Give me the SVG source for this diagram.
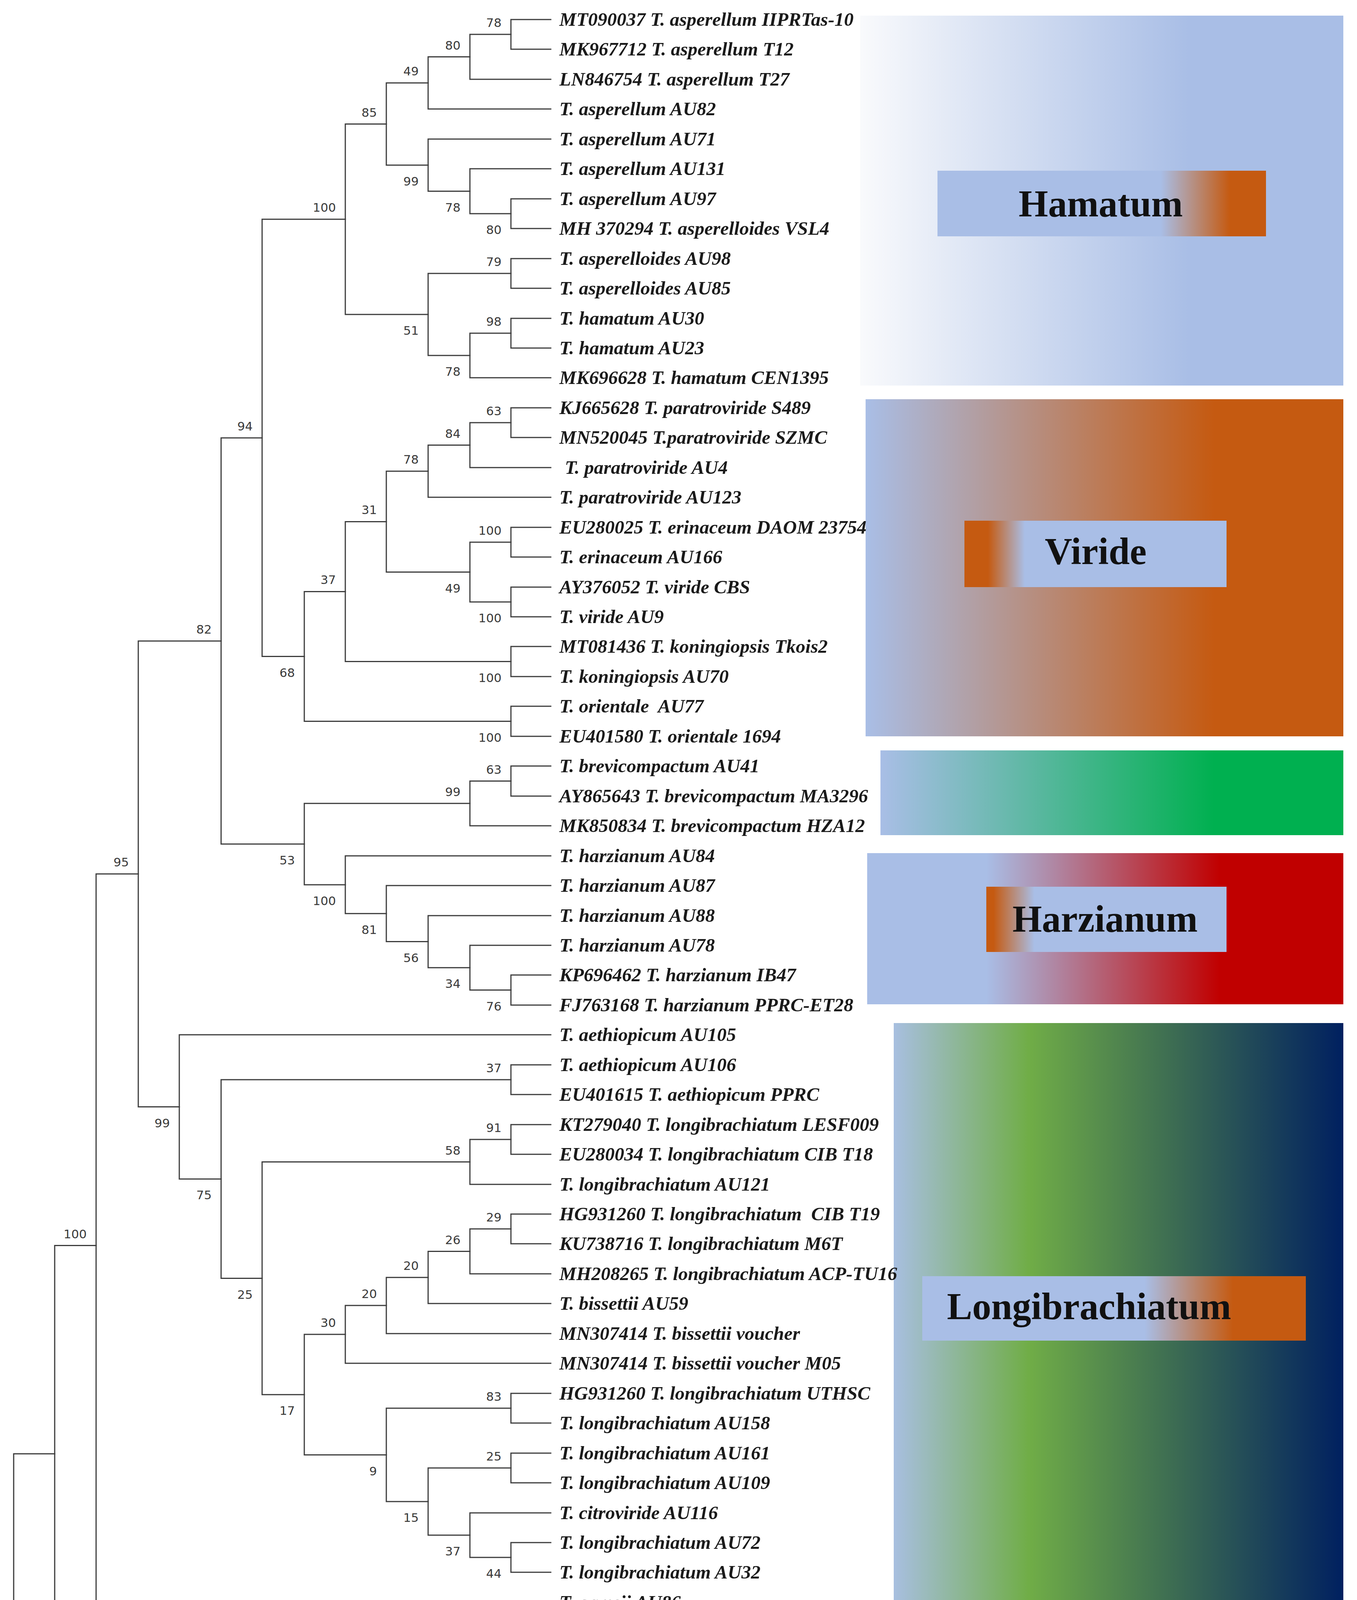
<svg xmlns="http://www.w3.org/2000/svg" width="3474" height="4448" viewBox="0 0 3474 4448">
<style>
.br{fill:none;stroke:#3c3c3c;stroke-width:3;stroke-linecap:square}
.bs{font-family:"DejaVu Sans",Verdana,sans-serif;font-size:31px;fill:#3a3a3a;text-anchor:end}
.lf{font-family:"Liberation Serif","Times New Roman",serif;font-size:49px;font-weight:bold;font-style:italic;fill:#1a1a1a}
.ttl{font-family:"Liberation Serif","Times New Roman",serif;font-size:97px;font-weight:bold;fill:#111;text-anchor:middle}
</style>
<defs>
<linearGradient id="gHam"><stop offset="0" stop-color="#f9fafc"/><stop offset="0.68" stop-color="#a9bee6"/><stop offset="1" stop-color="#a9bee6"/></linearGradient>
<linearGradient id="gVir"><stop offset="0" stop-color="#a9bee6"/><stop offset="0.73" stop-color="#c55a11"/><stop offset="1" stop-color="#c55a11"/></linearGradient>
<linearGradient id="gBre"><stop offset="0" stop-color="#a9bee6"/><stop offset="0.72" stop-color="#00b050"/><stop offset="1" stop-color="#00b050"/></linearGradient>
<linearGradient id="gHar"><stop offset="0" stop-color="#a9bee6"/><stop offset="0.25" stop-color="#a9bee6"/><stop offset="0.74" stop-color="#c00000"/><stop offset="1" stop-color="#c00000"/></linearGradient>
<linearGradient id="gLon"><stop offset="0" stop-color="#a8bfe0"/><stop offset="0.3" stop-color="#70ad47"/><stop offset="1" stop-color="#002060"/></linearGradient>
<linearGradient id="gOut"><stop offset="0" stop-color="#ffff00"/><stop offset="0.17" stop-color="#ffc000"/><stop offset="0.76" stop-color="#ff0000"/><stop offset="1" stop-color="#aabfe6"/></linearGradient>
<linearGradient id="lHam"><stop offset="0" stop-color="#a9bee6"/><stop offset="0.68" stop-color="#a9bee6"/><stop offset="0.89" stop-color="#c55a11"/><stop offset="1" stop-color="#c55a11"/></linearGradient>
<linearGradient id="lVir"><stop offset="0" stop-color="#c55a11"/><stop offset="0.09" stop-color="#c55a11"/><stop offset="0.23" stop-color="#a9bee6"/><stop offset="1" stop-color="#a9bee6"/></linearGradient>
<linearGradient id="lHar"><stop offset="0" stop-color="#c55a11"/><stop offset="0.03" stop-color="#c55a11"/><stop offset="0.2" stop-color="#a9bee6"/><stop offset="1" stop-color="#a9bee6"/></linearGradient>
<linearGradient id="lLon"><stop offset="0" stop-color="#a9bee6"/><stop offset="0.58" stop-color="#a9bee6"/><stop offset="0.81" stop-color="#c55a11"/><stop offset="1" stop-color="#c55a11"/></linearGradient>
</defs>
<rect width="3474" height="4448" fill="#ffffff"/>

<g id="clade-boxes">
<g id="box-hamatum"><rect x="2202" y="40" width="1237" height="947" fill="url(#gHam)"/><rect x="2400" y="437" width="841" height="168" fill="url(#lHam)"/><text class="ttl" x="2818" y="554">Hamatum</text></g>
<g id="box-viride"><rect x="2216" y="1022" width="1223" height="863" fill="url(#gVir)"/><rect x="2469" y="1333" width="671" height="170" fill="url(#lVir)"/><text class="ttl" x="2805" y="1444">Viride</text></g>
<g id="box-brevicompactum"><rect x="2254" y="1921" width="1185" height="217" fill="url(#gBre)"/></g>
<g id="box-harzianum"><rect x="2220" y="2184" width="1219" height="387" fill="url(#gHar)"/><rect x="2525" y="2270" width="615" height="167" fill="url(#lHar)"/><text class="ttl" x="2829" y="2385">Harzianum</text></g>
<g id="box-longibrachiatum"><rect x="2288" y="2619" width="1151" height="1628" fill="url(#gLon)"/><rect x="2361" y="3267" width="982" height="165" fill="url(#lLon)"/><text class="ttl" x="2788" y="3377">Longibrachiatum</text></g>
<g id="box-outgroup"><rect x="2406" y="4288" width="1033" height="134" fill="url(#gOut)"/><text class="ttl" x="2920" y="4381">Outgroup</text></g>
</g>

<g id="connectors" class="br">
<path d="M1410 50H1308V126H1410"/>
<path d="M1308 88H1203V203H1410"/>
<path d="M1203 145.5H1096V279H1410"/>
<path d="M1410 509H1308V585H1410"/>
<path d="M1410 432H1203V547H1308"/>
<path d="M1410 356H1096V489.5H1203"/>
<path d="M1096 212.25H989V422.75H1096"/>
<path d="M1410 662H1308V738H1410"/>
<path d="M1410 815H1308V891H1410"/>
<path d="M1308 853H1203V967H1410"/>
<path d="M1308 700H1096V910H1203"/>
<path d="M989 317.5H884V805H1096"/>
<path d="M1410 1044H1308V1120H1410"/>
<path d="M1308 1082H1203V1197H1410"/>
<path d="M1203 1139.5H1096V1273H1410"/>
<path d="M1410 1350H1308V1426H1410"/>
<path d="M1410 1503H1308V1579H1410"/>
<path d="M1308 1388H1203V1541H1308"/>
<path d="M1096 1206.25H989V1464.5H1203"/>
<path d="M1410 1655H1308V1732H1410"/>
<path d="M989 1335.4H884V1693.5H1308"/>
<path d="M1410 1808H1308V1885H1410"/>
<path d="M884 1514.4H779V1846.5H1308"/>
<path d="M884 561.25H671V1680.5H779"/>
<path d="M1410 1961H1308V2038H1410"/>
<path d="M1308 1999.5H1203V2114H1410"/>
<path d="M1410 2496H1308V2573H1410"/>
<path d="M1410 2420H1203V2534.5H1308"/>
<path d="M1410 2344H1096V2477.25H1203"/>
<path d="M1410 2267H989V2410.6H1096"/>
<path d="M1410 2191H884V2338.8H989"/>
<path d="M1203 2056.75H779V2264.9H884"/>
<path d="M671 1120.9H566V2160.8H779"/>
<path d="M1410 2726H1308V2802H1410"/>
<path d="M1410 2879H1308V2955H1410"/>
<path d="M1308 2917H1203V3032H1410"/>
<path d="M1410 3108H1308V3184H1410"/>
<path d="M1308 3146H1203V3261H1410"/>
<path d="M1203 3203.5H1096V3337H1410"/>
<path d="M1096 3270.25H989V3414H1410"/>
<path d="M989 3342.1H884V3490H1410"/>
<path d="M1410 3567H1308V3643H1410"/>
<path d="M1410 3720H1308V3796H1410"/>
<path d="M1410 3949H1308V4025H1410"/>
<path d="M1410 3873H1203V3987H1308"/>
<path d="M1308 3758H1096V3930H1203"/>
<path d="M1308 3605H989V3844H1096"/>
<path d="M884 3416.1H779V3724.5H989"/>
<path d="M1203 2974.5H671V3570.3H779"/>
<path d="M1308 2764H566V3272.4H671"/>
<path d="M1410 2649H459V3018.2H566"/>
<path d="M566 1640.9H354V2833.6H459"/>
<path d="M1410 4102H1308V4178H1410"/>
<path d="M354 2237.25H246V4140H1308"/>
<path d="M246 3188.6H140V4255H1410"/>
<path d="M1410 4331H1308V4408H1410"/>
<path d="M140 3721.8H35V4369.5H1308"/>
</g>

<g id="bootstrap-values" class="bs">
<text x="1284" y="69">78</text>
<text x="1179" y="126.5">80</text>
<text x="1072" y="193">49</text>
<text x="1284" y="599">80</text>
<text x="1179" y="541.5">78</text>
<text x="1072" y="475">99</text>
<text x="965" y="298.5">85</text>
<text x="1284" y="681">79</text>
<text x="1284" y="834">98</text>
<text x="1179" y="962">78</text>
<text x="1072" y="857">51</text>
<text x="860" y="542">100</text>
<text x="1284" y="1063">63</text>
<text x="1179" y="1120.5">84</text>
<text x="1072" y="1187">78</text>
<text x="1284" y="1369">100</text>
<text x="1284" y="1593">100</text>
<text x="1179" y="1516.5">49</text>
<text x="965" y="1316">31</text>
<text x="1284" y="1745.5">100</text>
<text x="860" y="1495">37</text>
<text x="1284" y="1898.5">100</text>
<text x="755" y="1732.5">68</text>
<text x="647" y="1102">94</text>
<text x="1284" y="1980.5">63</text>
<text x="1179" y="2038">99</text>
<text x="1284" y="2586.5">76</text>
<text x="1179" y="2529">34</text>
<text x="1072" y="2462.5">56</text>
<text x="965" y="2391">81</text>
<text x="860" y="2317">100</text>
<text x="755" y="2213">53</text>
<text x="542" y="1622">82</text>
<text x="330" y="2218">95</text>
<text x="435" y="2886">99</text>
<text x="1284" y="2745">37</text>
<text x="542" y="3070">75</text>
<text x="1284" y="2898">91</text>
<text x="1179" y="2955.5">58</text>
<text x="647" y="3324.5">25</text>
<text x="1284" y="3127">29</text>
<text x="1179" y="3184.5">26</text>
<text x="1072" y="3251">20</text>
<text x="965" y="3323">20</text>
<text x="860" y="3397">30</text>
<text x="755" y="3622">17</text>
<text x="1284" y="3586">83</text>
<text x="965" y="3776.5">9</text>
<text x="1284" y="3739">25</text>
<text x="1072" y="3896">15</text>
<text x="1179" y="3982">37</text>
<text x="1284" y="4039">44</text>
<text x="1284" y="4192">100</text>
<text x="222" y="3170">100</text>
<text x="1284" y="4421.5">99</text>
</g>

<g id="leaves" class="lf">
<g id="leaf-01"><text x="1432" y="66">MT090037 T. asperellum IIPRTas-10</text></g>
<g id="leaf-02"><text x="1432" y="142">MK967712 T. asperellum T12</text></g>
<g id="leaf-03"><text x="1432" y="219">LN846754 T. asperellum T27</text></g>
<g id="leaf-04"><text x="1432" y="295">T. asperellum AU82</text></g>
<g id="leaf-05"><text x="1432" y="372">T. asperellum AU71</text></g>
<g id="leaf-06"><text x="1432" y="448">T. asperellum AU131</text></g>
<g id="leaf-07"><text x="1432" y="525">T. asperellum AU97</text></g>
<g id="leaf-08"><text x="1432" y="601">MH 370294 T. asperelloides VSL4</text></g>
<g id="leaf-09"><text x="1432" y="678">T. asperelloides AU98</text></g>
<g id="leaf-10"><text x="1432" y="754">T. asperelloides AU85</text></g>
<g id="leaf-11"><text x="1432" y="831">T. hamatum AU30</text></g>
<g id="leaf-12"><text x="1432" y="907">T. hamatum AU23</text></g>
<g id="leaf-13"><text x="1432" y="983">MK696628 T. hamatum CEN1395</text></g>
<g id="leaf-14"><text x="1432" y="1060">KJ665628 T. paratroviride S489</text></g>
<g id="leaf-15"><text x="1432" y="1136">MN520045 T.paratroviride SZMC</text></g>
<g id="leaf-16"><text x="1446" y="1213">T. paratroviride AU4</text></g>
<g id="leaf-17"><text x="1432" y="1289">T. paratroviride AU123</text></g>
<g id="leaf-18"><text x="1432" y="1366">EU280025 T. erinaceum DAOM 23754</text></g>
<g id="leaf-19"><text x="1432" y="1442">T. erinaceum AU166</text></g>
<g id="leaf-20"><text x="1432" y="1519">AY376052 T. viride CBS</text></g>
<g id="leaf-21"><text x="1432" y="1595">T. viride AU9</text></g>
<g id="leaf-22"><text x="1432" y="1671">MT081436 T. koningiopsis Tkois2</text></g>
<g id="leaf-23"><text x="1432" y="1748">T. koningiopsis AU70</text></g>
<g id="leaf-24"><text x="1432" y="1824" xml:space="preserve">T. orientale  AU77</text></g>
<g id="leaf-25"><text x="1432" y="1901">EU401580 T. orientale 1694</text></g>
<g id="leaf-26"><text x="1432" y="1977">T. brevicompactum AU41</text></g>
<g id="leaf-27"><text x="1432" y="2054">AY865643 T. brevicompactum MA3296</text></g>
<g id="leaf-28"><text x="1432" y="2130">MK850834 T. brevicompactum HZA12</text></g>
<g id="leaf-29"><text x="1432" y="2207">T. harzianum AU84</text></g>
<g id="leaf-30"><text x="1432" y="2283">T. harzianum AU87</text></g>
<g id="leaf-31"><text x="1432" y="2360">T. harzianum AU88</text></g>
<g id="leaf-32"><text x="1432" y="2436">T. harzianum AU78</text></g>
<g id="leaf-33"><text x="1432" y="2512">KP696462 T. harzianum IB47</text></g>
<g id="leaf-34"><text x="1432" y="2589">FJ763168 T. harzianum PPRC-ET28</text></g>
<g id="leaf-35"><text x="1432" y="2665">T. aethiopicum AU105</text></g>
<g id="leaf-36"><text x="1432" y="2742">T. aethiopicum AU106</text></g>
<g id="leaf-37"><text x="1432" y="2818">EU401615 T. aethiopicum PPRC</text></g>
<g id="leaf-38"><text x="1432" y="2895">KT279040 T. longibrachiatum LESF009</text></g>
<g id="leaf-39"><text x="1432" y="2971">EU280034 T. longibrachiatum CIB T18</text></g>
<g id="leaf-40"><text x="1432" y="3048">T. longibrachiatum AU121</text></g>
<g id="leaf-41"><text x="1432" y="3124" xml:space="preserve">HG931260 T. longibrachiatum  CIB T19</text></g>
<g id="leaf-42"><text x="1432" y="3200">KU738716 T. longibrachiatum M6T</text></g>
<g id="leaf-43"><text x="1432" y="3277">MH208265 T. longibrachiatum ACP-TU16</text></g>
<g id="leaf-44"><text x="1432" y="3353">T. bissettii AU59</text></g>
<g id="leaf-45"><text x="1432" y="3430">MN307414 T. bissettii voucher</text></g>
<g id="leaf-46"><text x="1432" y="3506">MN307414 T. bissettii voucher M05</text></g>
<g id="leaf-47"><text x="1432" y="3583">HG931260 T. longibrachiatum UTHSC</text></g>
<g id="leaf-48"><text x="1432" y="3659">T. longibrachiatum AU158</text></g>
<g id="leaf-49"><text x="1432" y="3736">T. longibrachiatum AU161</text></g>
<g id="leaf-50"><text x="1432" y="3812">T. longibrachiatum AU109</text></g>
<g id="leaf-51"><text x="1432" y="3889">T. citroviride AU116</text></g>
<g id="leaf-52"><text x="1432" y="3965">T. longibrachiatum AU72</text></g>
<g id="leaf-53"><text x="1432" y="4041">T. longibrachiatum AU32</text></g>
<g id="leaf-54"><text x="1432" y="4118">T. gamsii AU86</text></g>
<g id="leaf-55"><text x="1432" y="4194">T. gamsii AU150</text></g>
<g id="leaf-56"><text x="1432" y="4271">XM 018805090 T. gamsii TGAM01</text></g>
<g id="leaf-57"><text x="1432" y="4347">NR 137579.1 Nectria eustromatica CBS 121896</text></g>
<g id="leaf-58"><text x="1432" y="4424">HM534892 Nectria aurantiaca CBS236</text></g>
</g>
</svg>
